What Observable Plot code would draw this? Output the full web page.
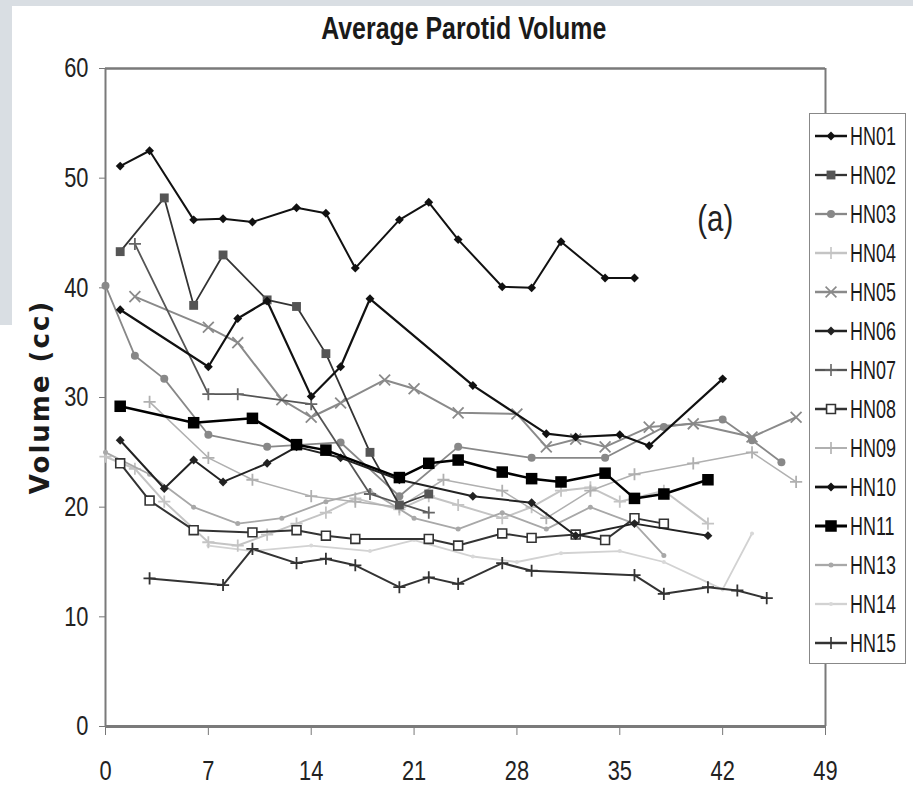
<!DOCTYPE html>
<html><head><meta charset="utf-8">
<script src="https://cdn.jsdelivr.net/npm/d3@7"></script>
<script src="https://cdn.jsdelivr.net/npm/@observablehq/plot@0.6"></script>
<style>
html,body{margin:0;padding:0;background:#fff;}
#wrap{position:relative;width:913px;height:786px;overflow:hidden;background:#fff;font-family:"Liberation Sans",Arial,sans-serif;}
#topband{position:absolute;left:0;top:0;width:913px;height:6px;background:#d9dee3;}
#leftband{position:absolute;left:0;top:0;width:12px;height:325px;background:#d9dee3;}
#chart{position:absolute;left:0;top:0;}
#title{position:absolute;left:0;width:913px;top:11px;text-align:center;}
#title span{display:inline-block;font-weight:bold;font-size:30px;color:#1a1a1a;transform:scale(0.83,1.05);margin-left:14px;}
#ylabel{position:absolute;left:40px;top:397px;transform:translate(-50%,-50%) rotate(-90deg);font-family:"DejaVu Sans",sans-serif;font-weight:bold;font-size:26px;letter-spacing:2px;color:#1a1a1a;white-space:nowrap;}
#legend{position:absolute;left:809px;top:113px;width:97px;height:551px;border:1px solid #888;background:#fff;box-sizing:border-box;}
.li{position:absolute;left:4px;height:30px;display:flex;align-items:center;font-size:23px;color:#1a1a1a;}
.li svg{margin-right:2px;flex:none;}
.li span{display:inline-block;transform:scale(0.78,1.1);transform-origin:left center;}
</style></head>
<body><div id="wrap">
<div id="topband"></div><div id="leftband"></div>
<div id="chart"></div>
<div id="title"><span>Average Parotid Volume</span></div>
<div id="ylabel">Volume (cc)</div>
<div id="legend"></div>
</div>
<script>
const yTicks = [0,10,20,30,40,50,60];
const xTicks = [0,7,14,21,28,35,42,49];
const panelLabel = "(a)";
const ids = ["HN01","HN02","HN03","HN04","HN05","HN06","HN07","HN08","HN09","HN10","HN11","HN13","HN14","HN15"];

const HN01_days = [1,3,6,8,10,13,15,17,20,22,24,27,29,31,34,36];
const HN01_vol  = [51.1,52.5,46.2,46.3,46.0,47.3,46.8,41.8,46.2,47.8,44.4,40.1,40.0,44.2,40.9,40.9];
const HN02_days = [1,4,6,8,11,13,15,18,20,22];
const HN02_vol  = [43.3,48.2,38.4,43.0,38.9,38.3,34.0,25.0,20.2,21.2];
const HN03_days = [0,2,4,7,11,16,20,24,29,34,38,42,44,46];
const HN03_vol  = [40.2,33.8,31.7,26.6,25.5,25.9,21.0,25.5,24.5,24.5,27.3,28.0,26.1,24.1];
const HN04_days = [0,2,4,7,9,11,13,15,17,20,22,24,27,29,31,33,35,38,41];
const HN04_vol  = [24.6,23.5,20.5,16.8,16.5,17.5,18.5,19.5,20.8,19.8,21.0,20.2,19.0,20.0,21.5,21.8,20.5,21.5,18.5];
const HN05_days = [2,7,9,12,14,16,19,21,24,28,30,32,34,37,40,44,47];
const HN05_vol  = [39.2,36.4,35.0,29.8,28.2,29.5,31.6,30.8,28.6,28.5,25.5,26.2,25.5,27.3,27.6,26.4,28.2];
const HN06_days = [1,4,6,8,11,13,16,20,25,29,32,36,41];
const HN06_vol  = [26.1,21.7,24.3,22.3,24.0,25.5,24.5,22.5,21.0,20.4,17.4,18.5,17.4];
const HN07_days = [2,7,9,14,18,22];
const HN07_vol  = [44.0,30.3,30.3,29.4,21.2,19.5];
const HN08_days = [1,3,6,10,13,15,17,22,24,27,29,32,34,36,38];
const HN08_vol  = [24.0,20.6,17.9,17.7,17.9,17.4,17.1,17.1,16.5,17.6,17.2,17.5,17.0,19.0,18.5];
const HN09_days = [3,7,10,14,17,20,23,27,30,33,36,40,44,47];
const HN09_vol  = [29.6,24.5,22.5,21.0,20.5,20.0,22.5,21.5,19.0,21.5,23.0,24.0,25.0,22.3];
const HN10_days = [1,7,9,11,14,16,18,25,30,32,35,37,42];
const HN10_vol  = [38.0,32.8,37.2,38.8,30.1,32.8,39.0,31.1,26.7,26.4,26.6,25.6,31.7];
const HN11_days = [1,6,10,13,15,20,22,24,27,29,31,34,36,38,41];
const HN11_vol  = [29.2,27.7,28.1,25.7,25.2,22.7,24.0,24.3,23.2,22.6,22.3,23.1,20.8,21.2,22.5];
const HN13_days = [0,3,6,9,12,15,18,21,24,27,30,33,36,38];
const HN13_vol  = [25.0,23.0,20.0,18.5,19.0,20.5,21.5,19.0,18.0,19.5,18.0,20.0,18.5,15.6];
const HN14_days = [7,10,14,18,21,25,28,31,35,38,42,44];
const HN14_vol  = [16.5,16.0,16.5,16.0,17.0,15.5,15.0,15.8,16.0,15.0,12.5,17.6];
const HN15_days = [3,8,10,13,15,17,20,22,24,27,29,36,38,41,43,45];
const HN15_vol  = [13.5,12.9,16.2,14.9,15.3,14.7,12.7,13.6,13.0,14.9,14.2,13.8,12.1,12.7,12.4,11.7];

const seriesDays = {HN01:HN01_days,HN02:HN02_days,HN03:HN03_days,HN04:HN04_days,HN05:HN05_days,HN06:HN06_days,HN07:HN07_days,HN08:HN08_days,HN09:HN09_days,HN10:HN10_days,HN11:HN11_days,HN13:HN13_days,HN14:HN14_days,HN15:HN15_days};
const seriesVol = {HN01:HN01_vol,HN02:HN02_vol,HN03:HN03_vol,HN04:HN04_vol,HN05:HN05_vol,HN06:HN06_vol,HN07:HN07_vol,HN08:HN08_vol,HN09:HN09_vol,HN10:HN10_vol,HN11:HN11_vol,HN13:HN13_vol,HN14:HN14_vol,HN15:HN15_vol};

const style = {
  HN01:{stroke:"#111",sw:2,sym:"diamond2",fill:"#111",r:4},
  HN02:{stroke:"#333",sw:1.8,sym:"square",fill:"#555",r:5},
  HN03:{stroke:"#888",sw:1.8,sym:"circle",fill:"#888",r:4},
  HN04:{stroke:"#c4c4c4",sw:2,sym:"plus",fill:"none",ms:"#c4c4c4",r:4},
  HN05:{stroke:"#8a8a8a",sw:2,sym:"times",fill:"none",ms:"#8a8a8a",r:5},
  HN06:{stroke:"#222",sw:2,sym:"diamond2",fill:"#222",r:4},
  HN07:{stroke:"#555",sw:1.8,sym:"plus",fill:"none",ms:"#666",r:4},
  HN08:{stroke:"#333",sw:2,sym:"square",fill:"#fff",ms:"#333",r:5},
  HN09:{stroke:"#b0b0b0",sw:1.5,sym:"plus",fill:"none",ms:"#b0b0b0",r:4},
  HN10:{stroke:"#111",sw:2.2,sym:"diamond2",fill:"#111",r:4},
  HN11:{stroke:"#000",sw:2.5,sym:"square",fill:"#000",r:6.5},
  HN13:{stroke:"#a8a8a8",sw:1.8,sym:"circle",fill:"#a8a8a8",r:2.5},
  HN14:{stroke:"#d2d2d2",sw:1.8,sym:"circle",fill:"#d8d8d8",r:2},
  HN15:{stroke:"#333",sw:2,sym:"plus",fill:"none",ms:"#333",r:4}
};
const drawOrder = ["HN14","HN04","HN09","HN13","HN05","HN03","HN15","HN08","HN07","HN02","HN06","HN10","HN11","HN01"];

const rows = [];
for (const id of ids) seriesDays[id].forEach((d,i)=>rows.push({id, day:d, vol:seriesVol[id][i]}));

const marks = [
  Plot.ruleY([60],{stroke:"#7a7a7a",strokeWidth:2.5}),
  Plot.ruleX([49],{stroke:"#7a7a7a",strokeWidth:2}),
  Plot.axisY({ticks:yTicks,tickSize:6,tickPadding:11,label:null,fontSize:26,stroke:"#777",fill:"#222"}),
  Plot.axisX({ticks:xTicks,tickSize:9,tickPadding:25,label:null,fontSize:26,stroke:"#777",fill:"#222"}),
  Plot.ruleX([0],{stroke:"#7a7a7a",strokeWidth:2}),
  Plot.ruleY([0],{stroke:"#7a7a7a",strokeWidth:3})
];
for (const id of drawOrder) {
  const s = style[id];
  const data = rows.filter(r=>r.id===id);
  marks.push(Plot.line(data,{x:"day",y:"vol",stroke:s.stroke,strokeWidth:s.sw,curve:"linear"}));
  if (s.fill==="none") marks.push(Plot.dot(data,{x:"day",y:"vol",symbol:s.sym,r:s.r,stroke:s.ms,strokeWidth:1.8,fill:"none"}));
  else marks.push(Plot.dot(data,{x:"day",y:"vol",symbol:s.sym,r:s.r,fill:s.fill,stroke:s.ms||"none",strokeWidth:1.6}));
}
marks.push(Plot.text([panelLabel],{x:()=>41.5,y:()=>46.3,text:d=>d,fontSize:35,fill:"#222"}));

const chart = Plot.plot({
  width:913,height:786,
  marginLeft:105,marginRight:88,marginTop:68,marginBottom:60,
  x:{domain:[0,49]},y:{domain:[0,60]},
  style:{fontFamily:'"Liberation Sans",Arial,sans-serif',fontSize:"26px",color:"#333",background:"transparent"},
  marks
});
chart.querySelectorAll("text").forEach(t=>{
  const tr = t.getAttribute("transform") || "";
  t.setAttribute("transform", (tr+" scale(0.84,1.06)").trim());
});
document.getElementById("chart").appendChild(chart);

const lg = document.getElementById("legend");
ids.forEach((id,i)=>{
  const s = style[id];
  const div = document.createElement("div");
  div.className="li"; div.style.top=(7+i*39)+"px";
  const symObj = {diamond2:d3.symbolDiamond2||d3.symbolDiamond,square:d3.symbolSquare,circle:d3.symbolCircle,plus:d3.symbolPlus||d3.symbolCross,times:d3.symbolTimes||d3.symbolX}[s.sym];
  const sym = d3.symbol(symObj, Math.PI*s.r*s.r)();
  div.innerHTML = `<svg width="34" height="16"><line x1="1" x2="33" y1="8" y2="8" stroke="${s.stroke}" stroke-width="${s.sw+0.5}"/><path transform="translate(17,8)" d="${sym}" fill="${s.fill==='none'?'none':s.fill}" stroke="${s.ms||'none'}" stroke-width="1.6"/></svg><span>${id}</span>`;
  lg.appendChild(div);
});
</script>
</body></html>
